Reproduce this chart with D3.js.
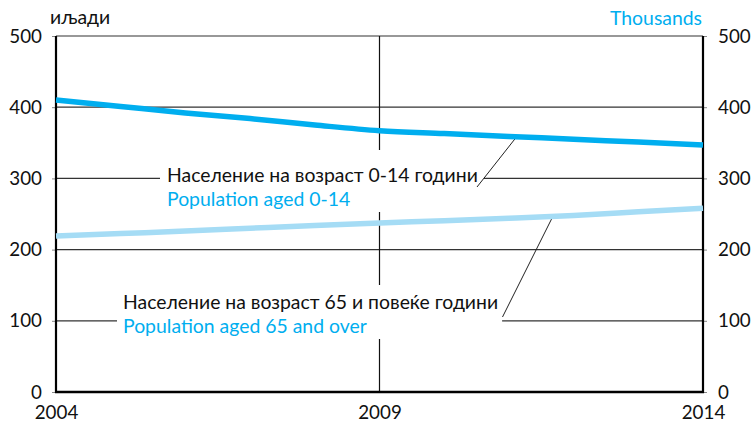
<!DOCTYPE html>
<html>
<head>
<meta charset="utf-8">
<script src="https://cdn.jsdelivr.net/npm/d3@7"></script>
<style>
body { margin: 0; background: #fff; }
svg text { font-family: Lato, "Open Sans", sans-serif; }
</style>
</head>
<body>
<div id="chart"></div>
<script>
// data (thousands)
var years = [2004, 2005, 2006, 2007, 2008, 2009, 2010, 2011, 2012, 2013, 2014]
var children = [410, 401, 392, 384, 375, 367, 363, 359, 355, 351, 347]
var elderly = [219, 222.5, 226, 230, 234, 237.5, 240.5, 244, 248, 253, 258]
var yTicks = [0, 100, 200, 300, 400, 500]
var xTicks = [2004, 2009, 2014]

var leftUnit = "иљади"
var rightUnit = "Thousands"
var childLabel = ["Население на возраст 0-14 години", "Population aged 0-14"]
var elderLabel = ["Население на возраст 65 и повеќе години", "Population aged 65 and over"]

var dark = "#00aeef"
var light = "#a5dcf5"
var fs = 19.4   // labels
var tfs = 18.8  // tick numbers

var screen = {width: 751, height: 424}
var margins = {top: 36, bottom: 32, left: 56, right: 48}
var width = screen.width - margins.left - margins.right
var height = screen.height - margins.top - margins.bottom

var xScale = d3.scaleLinear().domain([2004, 2014]).range([0, width])
var yScale = d3.scaleLinear().domain([0, 500]).range([height, 0])

var svg = d3.select("#chart").append("svg")
    .attr("width", screen.width)
    .attr("height", screen.height)

var g = svg.append("g")
    .attr("transform", "translate(" + margins.left + "," + margins.top + ")")

//gridlines
g.selectAll(".hgrid")
    .data(yTicks.filter(function(d) { return d > 0 }))
    .enter().append("line")
    .attr("x1", 0).attr("x2", width)
    .attr("y1", function(d) { return yScale(d) })
    .attr("y2", function(d) { return yScale(d) })
    .attr("stroke", "#333")
    .attr("stroke-width", 1.2)

g.append("line")
    .attr("x1", xScale(2009)).attr("x2", xScale(2009))
    .attr("y1", 0).attr("y2", height)
    .attr("stroke", "#111")
    .attr("stroke-width", 1.2)

//axes
var leftAxis = d3.axisLeft(yScale).tickValues(yTicks).tickSize(4).tickPadding(10)
var rightAxis = d3.axisRight(yScale).tickValues(yTicks).tickSize(4).tickPadding(11)
var bottomAxis = d3.axisBottom(xScale).tickValues(xTicks).tickSize(0).tickPadding(14).tickFormat(d3.format("d"))

function styleAxis(sel) {
    sel.select(".domain").remove()
    sel.selectAll(".tick line").attr("stroke", "#888")
    sel.selectAll("text").style("font-size", tfs + "px").attr("fill", "#111")
}

g.append("g").call(leftAxis).call(styleAxis)
g.append("g").attr("transform", "translate(" + width + ",0)").call(rightAxis).call(styleAxis)
g.append("g").attr("transform", "translate(0," + height + ")").call(bottomAxis).call(styleAxis)
    .selectAll("text").attr("dy", "0.71em")

g.append("line").attr("x1", 0).attr("x2", 0).attr("y1", 0).attr("y2", height + 1)
    .attr("stroke", "#000").attr("stroke-width", 2.2)
g.append("line").attr("x1", width).attr("x2", width).attr("y1", 0).attr("y2", height + 1)
    .attr("stroke", "#000").attr("stroke-width", 2.2)
g.append("line").attr("x1", -1).attr("x2", width + 1).attr("y1", height).attr("y2", height)
    .attr("stroke", "#000").attr("stroke-width", 2.6)

//label boxes which hide the gridlines behind them
var drawLabel = function(lines, tx, ty, pad) {
    var box = g.append("rect").attr("fill", "#fff")
    var t = g.append("g")
    t.append("text").attr("x", tx).attr("y", ty).attr("fill", "#111")
        .style("font-size", fs + "px").text(lines[0])
    t.append("text").attr("x", tx).attr("y", ty + 24).attr("fill", dark)
        .style("font-size", fs + "px").text(lines[1])
    var bb = t.node().getBBox()
    box.attr("x", bb.x - pad.l).attr("y", bb.y - pad.t)
        .attr("width", bb.width + pad.l + pad.r)
        .attr("height", bb.height + pad.t + pad.b)
}

drawLabel(childLabel, 167 - margins.left, 182 - margins.top, {l: 7, r: 6, t: 13, b: 2})
drawLabel(elderLabel, 123 - margins.left, 309 - margins.top, {l: 6, r: 4, t: 5, b: 2})

//leader lines from labels to the series
var leader = function(series, year, x0, y0) {
    var v = d3.scaleLinear().domain(years).range(series)(year)
    g.append("line")
        .attr("x1", x0 - margins.left).attr("y1", y0 - margins.top)
        .attr("x2", xScale(year)).attr("y2", yScale(v))
        .attr("stroke", "#222").attr("stroke-width", 1)
}
leader(children, 2011.12, 477, 187)
leader(elderly, 2011.68, 502.5, 317)

//series
var line = d3.line()
    .x(function(d, i) { return xScale(years[i]) })
    .y(function(d) { return yScale(d) })
    .curve(d3.curveMonotoneX)

g.append("path").datum(elderly).attr("d", line)
    .attr("fill", "none").attr("stroke", light).attr("stroke-width", 5.5)
g.append("path").datum(children).attr("d", line)
    .attr("fill", "none").attr("stroke", dark).attr("stroke-width", 5.5)

//unit titles
svg.append("text").attr("x", 50).attr("y", 24).attr("fill", "#111")
    .style("font-size", fs + "px").text(leftUnit)
svg.append("text").attr("x", 702).attr("y", 25).attr("text-anchor", "end").attr("fill", dark)
    .style("font-size", fs + "px").text(rightUnit)
</script>
</body>
</html>
